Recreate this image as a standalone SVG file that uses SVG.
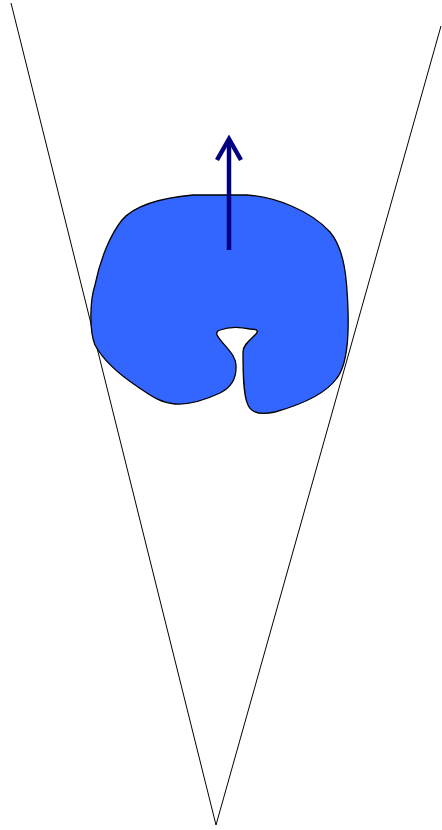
<svg xmlns="http://www.w3.org/2000/svg" width="442" height="830" viewBox="0 0 442 830">
<style>
.edge{fill:none;stroke:#000;stroke-width:1}
.blob{fill:#3366ff;stroke:#000;stroke-width:1.3}
.arrow{fill:none;stroke:#000080;stroke-width:4.5}
</style>
<rect width="442" height="830" fill="#fff"/>
<g id="connectors">
<line class="edge" x1="11" y1="3" x2="216" y2="825"/>
<line class="edge" x1="441" y1="26" x2="216" y2="825"/>
</g>
<g id="blob">
<path class="blob" d="M193,195 L247,195 C275,197 310,210 330,232 C345,250 347,280 348,310 C349,340 347,365 337,378 C325,395 300,405 275,412 C262,415 252,414 248,405 C243,395 243,370 243,352 C243,345 250,340 255,335 C260,330 256,329 250,329 C240,327 228,327 220,330 C214,332 217,336 222,342 C230,351 237,358 236,368 C236,380 230,388 220,393 C205,400 190,405 175,404 C160,403 150,395 138,387 C120,375 103,360 95,345 C89,330 90,300 95,285 C100,260 110,235 122,220 C135,205 160,198 193,195 Z"/>
</g>
<g id="arrow">
<line class="arrow" x1="229" y1="250" x2="229" y2="140"/>
<polyline class="arrow" points="217,160 229,139 241,160" stroke-linejoin="miter"/>
</g>
</svg>
